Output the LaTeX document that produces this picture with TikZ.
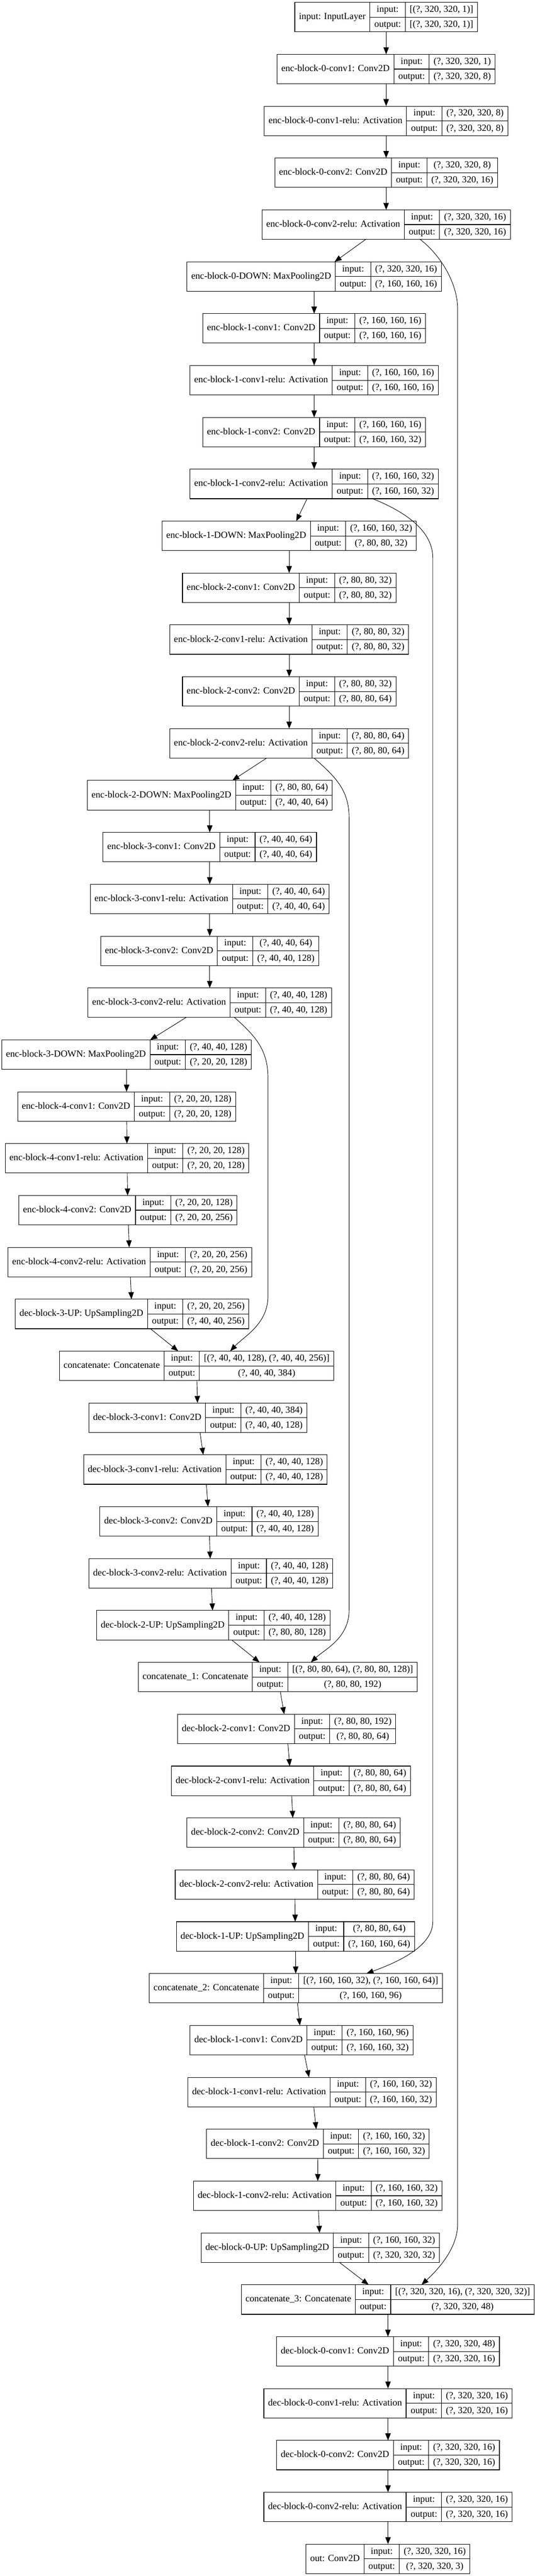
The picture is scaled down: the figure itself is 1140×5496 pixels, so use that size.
\documentclass[tikz,border=0pt]{standalone}
\usepackage{fontspec}
\setmainfont{Liberation Serif}
\usepackage{tikz}
\usetikzlibrary{arrows.meta}

\newlength\cpad
\setlength\cpad{4.5pt}
\setlength\arrayrulewidth{0.6pt}
\renewcommand\arraystretch{0}
\newcommand\fieldstrut{\rule[-5pt]{0pt}{15.4pt}}
% one keras record: label | input:/output: | shapes
\newcommand\rec[3]{%
  \begin{tabular}{@{\hspace{\cpad}}c@{\hspace{\cpad}}|@{}c@{}|@{}c@{}}
    #1 &
    \begin{tabular}{@{\hspace{\cpad}}c@{\hspace{\cpad}}}\fieldstrut input:\\\hline\fieldstrut output:\end{tabular} &
    \begin{tabular}{@{\hspace{\cpad}}c@{\hspace{\cpad}}}\fieldstrut #2\\\hline\fieldstrut #3\end{tabular}
  \end{tabular}}

\tikzset{
  layer/.style={draw, line width=0.6pt, inner sep=0pt, outer sep=0pt, fill=white,
    font=\fontsize{10}{12}\selectfont},
  edge/.style={line width=0.5pt, -{Triangle[length=7.5pt,width=5.8pt]}}
}

\begin{document}
\begin{tikzpicture}[x=0.5pt,y=-0.5pt]
    \path[use as bounding box, fill=white] (0,0) rectangle (1140,5496);

    % encoder
    \node[layer] (inp)   at (823.5,36.6)   {\rec{input: InputLayer}{[(?, 320, 320, 1)]}{[(?, 320, 320, 1)]}};
    \node[layer] (e0c1)  at (823.5,147.3)  {\rec{enc-block-0-conv1: Conv2D}{(?, 320, 320, 1)}{(?, 320, 320, 8)}};
    \node[layer] (e0c1r) at (823.5,257.9)  {\rec{enc-block-0-conv1-relu: Activation}{(?, 320, 320, 8)}{(?, 320, 320, 8)}};
    \node[layer] (e0c2)  at (823.5,368.6)  {\rec{enc-block-0-conv2: Conv2D}{(?, 320, 320, 8)}{(?, 320, 320, 16)}};
    \node[layer] (e0c2r) at (823.5,479.3)  {\rec{enc-block-0-conv2-relu: Activation}{(?, 320, 320, 16)}{(?, 320, 320, 16)}};
    \node[layer] (e0dn)  at (670,590)      {\rec{enc-block-0-DOWN: MaxPooling2D}{(?, 320, 320, 16)}{(?, 160, 160, 16)}};
    \node[layer] (e1c1)  at (670,700.6)    {\rec{enc-block-1-conv1: Conv2D}{(?, 160, 160, 16)}{(?, 160, 160, 16)}};
    \node[layer] (e1c1r) at (670,811.3)    {\rec{enc-block-1-conv1-relu: Activation}{(?, 160, 160, 16)}{(?, 160, 160, 16)}};
    \node[layer] (e1c2)  at (670,922)      {\rec{enc-block-1-conv2: Conv2D}{(?, 160, 160, 16)}{(?, 160, 160, 32)}};
    \node[layer] (e1c2r) at (670,1032.6)   {\rec{enc-block-1-conv2-relu: Activation}{(?, 160, 160, 32)}{(?, 160, 160, 32)}};
    \node[layer] (e1dn)  at (616.7,1143.3) {\rec{enc-block-1-DOWN: MaxPooling2D}{(?, 160, 160, 32)}{(?, 80, 80, 32)}};
    \node[layer] (e2c1)  at (616.7,1254)   {\rec{enc-block-2-conv1: Conv2D}{(?, 80, 80, 32)}{(?, 80, 80, 32)}};
    \node[layer] (e2c1r) at (616.7,1364.6) {\rec{enc-block-2-conv1-relu: Activation}{(?, 80, 80, 32)}{(?, 80, 80, 32)}};
    \node[layer] (e2c2)  at (616.7,1475.3) {\rec{enc-block-2-conv2: Conv2D}{(?, 80, 80, 32)}{(?, 80, 80, 64)}};
    \node[layer] (e2c2r) at (616.7,1586)   {\rec{enc-block-2-conv2-relu: Activation}{(?, 80, 80, 64)}{(?, 80, 80, 64)}};
    \node[layer] (e2dn)  at (447.3,1696.6) {\rec{enc-block-2-DOWN: MaxPooling2D}{(?, 80, 80, 64)}{(?, 40, 40, 64)}};
    \node[layer] (e3c1)  at (447.3,1807.3) {\rec{enc-block-3-conv1: Conv2D}{(?, 40, 40, 64)}{(?, 40, 40, 64)}};
    \node[layer] (e3c1r) at (447.3,1918)   {\rec{enc-block-3-conv1-relu: Activation}{(?, 40, 40, 64)}{(?, 40, 40, 64)}};
    \node[layer] (e3c2)  at (447.3,2028.7) {\rec{enc-block-3-conv2: Conv2D}{(?, 40, 40, 64)}{(?, 40, 40, 128)}};
    \node[layer] (e3c2r) at (447.3,2139.3) {\rec{enc-block-3-conv2-relu: Activation}{(?, 40, 40, 128)}{(?, 40, 40, 128)}};
    \node[layer] (e3dn)  at (270,2250)     {\rec{enc-block-3-DOWN: MaxPooling2D}{(?, 40, 40, 128)}{(?, 20, 20, 128)}};
    \node[layer] (e4c1)  at (270,2360.7)   {\rec{enc-block-4-conv1: Conv2D}{(?, 20, 20, 128)}{(?, 20, 20, 128)}};
    \node[layer] (e4c1r) at (271,2471.3)   {\rec{enc-block-4-conv1-relu: Activation}{(?, 20, 20, 128)}{(?, 20, 20, 128)}};
    \node[layer] (e4c2)  at (272.6,2582)   {\rec{enc-block-4-conv2: Conv2D}{(?, 20, 20, 128)}{(?, 20, 20, 256)}};
    \node[layer] (e4c2r) at (276.7,2692.7) {\rec{enc-block-4-conv2-relu: Activation}{(?, 20, 20, 256)}{(?, 20, 20, 256)}};

    % decoder
    \node[layer] (d3up)  at (281.7,2803.4) {\rec{dec-block-3-UP: UpSampling2D}{(?, 20, 20, 256)}{(?, 40, 40, 256)}};
    \node[layer] (cat0)  at (419,2914)     {\rec{concatenate: Concatenate}{[(?, 40, 40, 128), (?, 40, 40, 256)]}{(?, 40, 40, 384)}};
    \node[layer] (d3c1)  at (422,3024.7)   {\rec{dec-block-3-conv1: Conv2D}{(?, 40, 40, 384)}{(?, 40, 40, 128)}};
    \node[layer] (d3c1r) at (438,3135.4)   {\rec{dec-block-3-conv1-relu: Activation}{(?, 40, 40, 128)}{(?, 40, 40, 128)}};
    \node[layer] (d3c2)  at (445.7,3246)   {\rec{dec-block-3-conv2: Conv2D}{(?, 40, 40, 128)}{(?, 40, 40, 128)}};
    \node[layer] (d3c2r) at (449.3,3356.7) {\rec{dec-block-3-conv2-relu: Activation}{(?, 40, 40, 128)}{(?, 40, 40, 128)}};
    \node[layer] (d2up)  at (455,3467.4)   {\rec{dec-block-2-UP: UpSampling2D}{(?, 40, 40, 128)}{(?, 80, 80, 128)}};
    \node[layer] (cat1)  at (592.5,3578)   {\rec{concatenate\_1: Concatenate}{[(?, 80, 80, 64), (?, 80, 80, 128)]}{(?, 80, 80, 192)}};
    \node[layer] (d2c1)  at (611.4,3688.7) {\rec{dec-block-2-conv1: Conv2D}{(?, 80, 80, 192)}{(?, 80, 80, 64)}};
    \node[layer] (d2c1r) at (620.5,3799.4) {\rec{dec-block-2-conv1-relu: Activation}{(?, 80, 80, 64)}{(?, 80, 80, 64)}};
    \node[layer] (d2c2)  at (626,3910)     {\rec{dec-block-2-conv2: Conv2D}{(?, 80, 80, 64)}{(?, 80, 80, 64)}};
    \node[layer] (d2c2r) at (628.5,4020.7) {\rec{dec-block-2-conv2-relu: Activation}{(?, 80, 80, 64)}{(?, 80, 80, 64)}};
    \node[layer] (d1up)  at (630,4131.4)   {\rec{dec-block-1-UP: UpSampling2D}{(?, 80, 80, 64)}{(?, 160, 160, 64)}};
    \node[layer] (cat2)  at (631,4242)     {\rec{concatenate\_2: Concatenate}{[(?, 160, 160, 32), (?, 160, 160, 64)]}{(?, 160, 160, 96)}};
    \node[layer] (d1c1)  at (643,4352.7)   {\rec{dec-block-1-conv1: Conv2D}{(?, 160, 160, 96)}{(?, 160, 160, 32)}};
    \node[layer] (d1c1r) at (665.5,4463.4) {\rec{dec-block-1-conv1-relu: Activation}{(?, 160, 160, 32)}{(?, 160, 160, 32)}};
    \node[layer] (d1c2)  at (678,4574)     {\rec{dec-block-1-conv2: Conv2D}{(?, 160, 160, 32)}{(?, 160, 160, 32)}};
    \node[layer] (d1c2r) at (677.6,4684.7) {\rec{dec-block-1-conv2-relu: Activation}{(?, 160, 160, 32)}{(?, 160, 160, 32)}};
    \node[layer] (d0up)  at (683,4795.4)   {\rec{dec-block-0-UP: UpSampling2D}{(?, 160, 160, 32)}{(?, 320, 320, 32)}};
    \node[layer] (cat3)  at (827,4906.1)   {\rec{concatenate\_3: Concatenate}{[(?, 320, 320, 16), (?, 320, 320, 32)]}{(?, 320, 320, 48)}};
    \node[layer] (d0c1)  at (827.5,5016.8) {\rec{dec-block-0-conv1: Conv2D}{(?, 320, 320, 48)}{(?, 320, 320, 16)}};
    \node[layer] (d0c1r) at (827.5,5127.4) {\rec{dec-block-0-conv1-relu: Activation}{(?, 320, 320, 16)}{(?, 320, 320, 16)}};
    \node[layer] (d0c2)  at (827.5,5238.1) {\rec{dec-block-0-conv2: Conv2D}{(?, 320, 320, 16)}{(?, 320, 320, 16)}};
    \node[layer] (d0c2r) at (827.5,5348.8) {\rec{dec-block-0-conv2-relu: Activation}{(?, 320, 320, 16)}{(?, 320, 320, 16)}};
    \node[layer] (out)   at (827.5,5459.4) {\rec{out: Conv2D}{(?, 320, 320, 16)}{(?, 320, 320, 3)}};

    % main chain
    \foreach \a/\b in {inp/e0c1, e0c1/e0c1r, e0c1r/e0c2, e0c2/e0c2r, e0c2r/e0dn,
        e0dn/e1c1, e1c1/e1c1r, e1c1r/e1c2, e1c2/e1c2r, e1c2r/e1dn,
        e1dn/e2c1, e2c1/e2c1r, e2c1r/e2c2, e2c2/e2c2r, e2c2r/e2dn,
        e2dn/e3c1, e3c1/e3c1r, e3c1r/e3c2, e3c2/e3c2r, e3c2r/e3dn,
        e3dn/e4c1, e4c1/e4c1r, e4c1r/e4c2, e4c2/e4c2r, e4c2r/d3up,
        d3up/cat0, cat0/d3c1, d3c1/d3c1r, d3c1r/d3c2, d3c2/d3c2r, d3c2r/d2up,
        d2up/cat1, cat1/d2c1, d2c1/d2c1r, d2c1r/d2c2, d2c2/d2c2r, d2c2r/d1up,
        d1up/cat2, cat2/d1c1, d1c1/d1c1r, d1c1r/d1c2, d1c2/d1c2r, d1c2r/d0up,
        d0up/cat3, cat3/d0c1, d0c1/d0c1r, d0c1r/d0c2, d0c2/d0c2r, d0c2r/out}
        \draw[edge] (\a) -- (\b);

    % skip connections
    \draw[edge] ([xshift=36.25pt]e0c2r.south) .. controls +(45,35) and +(0,-55) .. (976,660)
        -- (976,4745) .. controls +(0,55) and +(30,-28) .. ([xshift=36pt]cat3.north);
    \draw[edge] ([xshift=62.3pt]e1c2r.south) .. controls +(75,30) and +(0,-55) .. (923,1190)
        -- (923,4100) .. controls +(0,55) and +(60,-22) .. ([xshift=75.25pt]cat2.north);
    \draw[edge] ([xshift=26.65pt]e2c2r.south) .. controls +(45,40) and +(0,-60) .. (744.5,1745)
        -- (744.5,3435) .. controls +(0,60) and +(30,-28) .. ([xshift=35.25pt]cat1.north);
    \draw[edge] ([xshift=26.35pt]e3c2r.south) .. controls +(45,40) and +(0,-60) .. (571.5,2300)
        -- (571.5,2765) .. controls +(0,60) and +(30,-32) .. ([xshift=36pt]cat0.north);
\end{tikzpicture}
\end{document}
